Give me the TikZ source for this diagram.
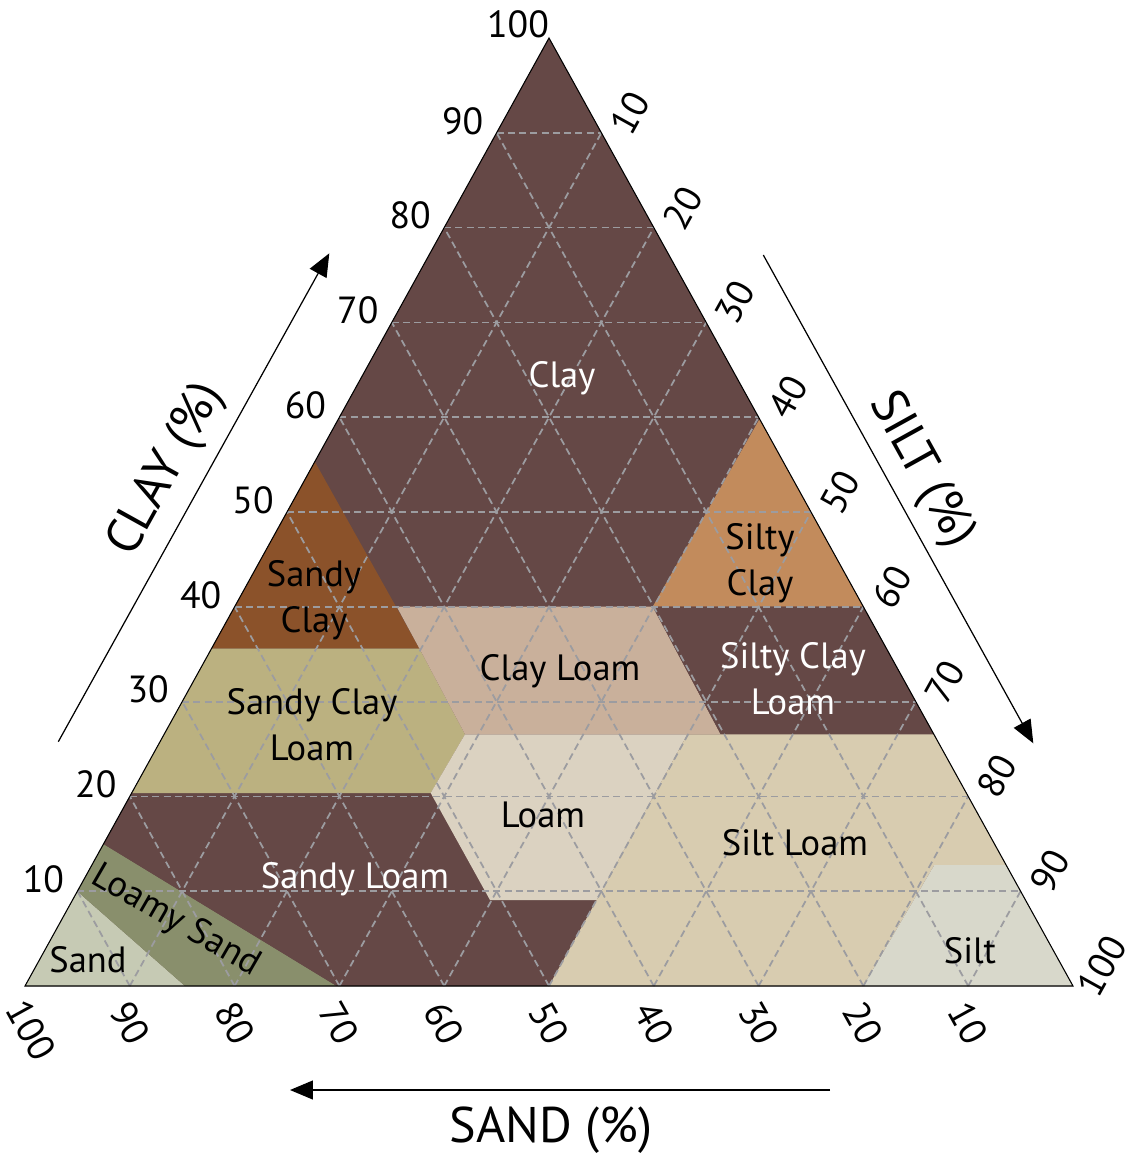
\documentclass[tikz,border=0pt]{standalone}
\usepackage{fontspec}
\setmainfont{PT Sans}
\usetikzlibrary{calc,arrows.meta}
\definecolor{cdark}{RGB}{101,72,70}
\definecolor{csandyclay}{RGB}{139,82,42}
\definecolor{csiltyclay}{RGB}{194,139,92}
\definecolor{cclayloam}{RGB}{201,176,155}
\definecolor{cscl}{RGB}{187,177,128}
\definecolor{cloam}{RGB}{219,210,193}
\definecolor{csiltloam}{RGB}{216,204,176}
\definecolor{csilt}{RGB}{216,216,203}
\definecolor{cloamysand}{RGB}{137,143,108}
\definecolor{csand}{RGB}{198,202,180}
\definecolor{cgrid}{RGB}{156,156,160}
\begin{document}
\begin{tikzpicture}[x=0.02cm,y=-0.02cm,
  gridline/.style={draw=cgrid,line width=1pt,dash pattern=on 4pt off 2.4pt},
  ticklab/.style={font=\fontsize{21.5}{24}\selectfont,inner sep=0pt},
  regionlab/.style={font=\fontsize{20.8}{26}\selectfont,align=center,inner sep=0pt},
  axistitle/.style={font=\fontsize{28.5}{32}\selectfont,inner sep=0pt},
  axisarrow/.style={line width=0.7pt,-{Triangle[length=0.46cm,width=0.38cm]}},
  outline/.style={draw=black,line width=0.6pt},
]
\useasboundingbox (0,0) rectangle (1138,1154);
\coordinate (L) at (25,986);
\coordinate (R) at (1073,986);
\coordinate (T) at (549,38);

% background (clay colour)
\fill[cdark] (L) -- (R) -- (T) -- cycle;
% regions
\fill[csand] (L) -- (185,986) -- (77.5,891.5) -- cycle;
\fill[cloamysand] (77.5,891.5) -- (185,986) -- (336.7,986) -- (103.5,844) -- cycle;
\fill[cdark] (103.5,844) -- (336.7,986) -- (549,986) -- (596.7,900) -- (490,900) -- (430.7,793) -- (131.7,793) -- cycle;
\fill[cscl] (131.7,793) -- (430.7,793) -- (465,734.3) -- (419.3,648.3) -- (211.7,648.3) -- cycle;
\fill[csandyclay] (211.7,648.3) -- (419.3,648.3) -- (314.8,461.7) -- cycle;
\fill[cclayloam] (396.7,606.7) -- (652.7,606.7) -- (720.7,734.3) -- (465,734.3) -- (419.3,648.3) -- cycle;
\fill[csiltyclay] (759.6,419) -- (863.3,606.7) -- (652.7,606.7) -- cycle;
\fill[cdark] (652.7,606.7) -- (863.3,606.7) -- (933.9,734.3) -- (720.7,734.3) -- cycle;
\fill[cloam] (465,734.3) -- (687.3,734.3) -- (596.7,900) -- (490,900) -- (430.7,793) -- cycle;
\fill[csiltloam] (687.3,734.3) -- (933.9,734.3) -- (1006.1,865) -- (934.3,865) -- (863.3,986) -- (549,986) -- (596.7,900) -- cycle;
\fill[csilt] (934.3,865) -- (1006.1,865) -- (R) -- (863.3,986) -- cycle;

% grid
\foreach \k in {1,...,9}{
  \pgfmathsetmacro\f{\k/10}
  \draw[gridline] ($(L)!\f!(T)$) -- ($(R)!\f!(T)$);
  \draw[gridline] ($(L)!\f!(R)$) -- ($(T)!\f!(R)$);
  \draw[gridline] ($(R)!\f!(L)$) -- ($(T)!\f!(L)$);
}
\draw[outline] (L) -- (R) -- (T) -- cycle;

% clay ticks
\foreach \k in {1,...,9}{
  \pgfmathsetmacro\f{\k/10}
  \pgfmathtruncatemacro\v{\k*10}
  \node[ticklab] (clay\k) at ($(L)!\f!(T)+(-34,-12)$) {\v};
}
\node[ticklab] (clay10) at (518,24) {100};
% silt ticks
\foreach \k in {1,...,10}{
  \pgfmathsetmacro\f{\k/10}
  \pgfmathtruncatemacro\v{\k*10}
  \node[ticklab,rotate=61] (silt\k) at ($(T)!\f!(R)+(29,-20)$) {\v};
}
% sand ticks
\foreach \k in {1,...,9}{
  \pgfmathsetmacro\f{\k/10}
  \pgfmathtruncatemacro\v{\k*10}
  \node[ticklab,rotate=-61] (sand\k) at ($(R)!\f!(L)+(0,37)$) {\v};
}
\node[ticklab,rotate=-61] (sand10) at (31,1030) {100};

% axis arrows and titles
\coordinate (clayA) at (58.3,741.7);
\coordinate (clayB) at (329.3,253.3);
\coordinate (siltA) at (763.3,255);
\coordinate (siltB) at (1033.3,743.3);
\coordinate (sandA) at (830,1090);
\coordinate (sandB) at (290,1090);
\draw[axisarrow] (clayA) -- (clayB);
\draw[axisarrow] (siltA) -- (siltB);
\draw[axisarrow] (sandA) -- (sandB);
\node[axistitle,rotate=61] (claytitle) at (167,470) {CLAY (\%)};
\node[axistitle,rotate=-61] (silttitle) at (921,470) {SILT (\%)};
\node[axistitle] (sandtitle) at (551,1130) {SAND (\%)};

% region labels
\node[regionlab,text=white] (lclay) at (562,378) {Clay};
\node[regionlab] (lsandyclay) at (314,600) {Sandy\\Clay};
\node[regionlab] (lscl) at (312,725) {Sandy Clay\\Loam};
\node[regionlab] (lclayloam) at (560,671) {Clay Loam};
\node[regionlab] (lsiltyclay) at (760,563) {Silty\\Clay};
\node[regionlab,text=white] (lsiclloam) at (793,679) {Silty Clay\\Loam};
\node[regionlab] (lloam) at (543,815) {Loam};
\node[regionlab] (lsiltloam) at (795,843) {Silt Loam};
\node[regionlab,text=white] (lsandyloam) at (355,879) {Sandy Loam};
\node[regionlab,rotate=-30] (lloamysand) at (176,921) {Loamy Sand};
\node[regionlab] (lsand) at (88,960) {Sand};
\node[regionlab] (lsilt) at (970,951) {Silt};
\end{tikzpicture}
\end{document}
